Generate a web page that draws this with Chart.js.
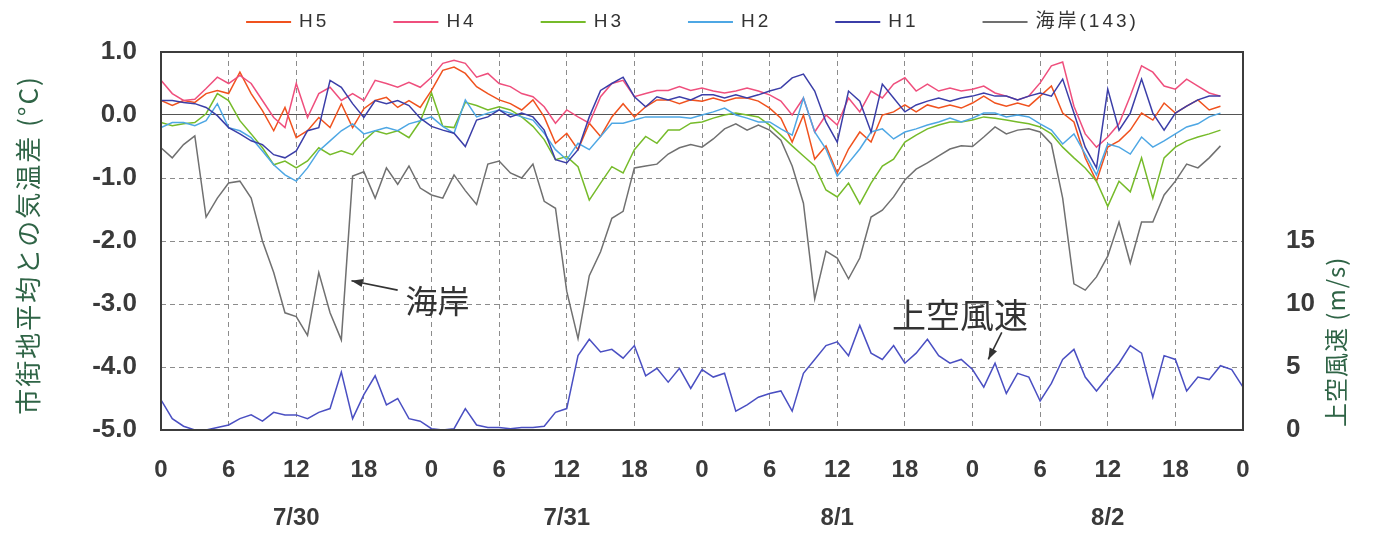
<!DOCTYPE html>
<html>
<head>
<meta charset="utf-8">
<script src="https://cdn.jsdelivr.net/npm/chart.js@4.4.1/dist/chart.umd.min.js"></script>
<style>
html, body { margin: 0; padding: 0; background: #fff; }
#wrap { width: 1377px; height: 545px; position: relative; }
</style>
</head>
<body>
<div id="wrap"><canvas id="tempChart"></canvas></div>
<script>
// hourly values from 7/30 0:00 (index = hours elapsed)
var dates = ['7/30', '7/31', '8/1', '8/2'];
var hourTicks = [0, 6, 12, 18, 24, 30, 36, 42, 48, 54, 60, 66, 72, 78, 84, 90, 96];

// 市街地平均との気温差 (°C)
var h5 = [0.23, 0.15, 0.23, 0.2, 0.34, 0.39, 0.34, 0.68, 0.34, 0.07, -0.25, 0.12, -0.36, -0.25, -0.04, -0.2, 0.18, -0.2, 0.1, 0.23, 0.28, 0.12, 0.23, 0.12,
    0.39, 0.71, 0.76, 0.66, 0.45, 0.34, 0.24, 0.18, 0.08, 0.24, -0.03, -0.45, -0.29, -0.55, -0.13, -0.34, -0.03, 0.18, -0.03, 0.13, 0.24, 0.24, 0.18, 0.24,
    0.22, 0.27, 0.22, 0.27, 0.27, 0.22, 0.11, -0.05, -0.43, 0.0, -0.7, -0.49, -0.92, -0.54, -0.27, -0.43, 0.0, 0.05, 0.16, 0.05, 0.16, 0.11, 0.16, 0.11,
    0.19, 0.3, 0.19, 0.14, 0.19, 0.14, 0.3, 0.46, 0.03, -0.11, -0.68, -1.05, -0.51, -0.41, -0.24, 0.03, -0.08, 0.19, 0.03, 0.14, 0.24, 0.08, 0.14];
var h4 = [0.55, 0.34, 0.23, 0.25, 0.42, 0.6, 0.5, 0.63, 0.5, 0.23, -0.04, -0.2, 0.5, -0.04, 0.34, 0.44, 0.23, 0.34, 0.23, 0.55, 0.5, 0.44, 0.52, 0.44,
    0.6, 0.82, 0.87, 0.82, 0.6, 0.66, 0.5, 0.45, 0.34, 0.29, 0.13, -0.13, 0.08, -0.03, -0.13, 0.29, 0.5, 0.55, 0.29, 0.34, 0.39, 0.39, 0.45, 0.39,
    0.43, 0.38, 0.35, 0.38, 0.43, 0.38, 0.32, 0.22, 0.0, 0.27, -0.27, 0.0, -0.16, 0.27, 0.05, 0.38, 0.27, 0.49, 0.59, 0.38, 0.49, 0.38, 0.43, 0.38,
    0.41, 0.46, 0.35, 0.3, 0.24, 0.3, 0.51, 0.78, 0.84, 0.14, -0.3, -0.51, -0.35, -0.14, 0.3, 0.78, 0.68, 0.46, 0.41, 0.57, 0.46, 0.35, 0.3];
var h3 = [-0.12, -0.17, -0.14, -0.12, 0.02, 0.34, 0.23, -0.09, -0.3, -0.52, -0.79, -0.73, -0.84, -0.73, -0.52, -0.63, -0.57, -0.63, -0.41, -0.25, -0.3, -0.25, -0.36, -0.1,
    0.35, -0.18, -0.2, 0.2, 0.15, 0.08, 0.13, 0.08, -0.03, -0.18, -0.39, -0.71, -0.66, -0.82, -1.35, -1.08, -0.82, -0.92, -0.55, -0.34, -0.45, -0.24, -0.24, -0.13,
    -0.11, -0.05, 0.0, 0.03, 0.0, -0.03, -0.16, -0.32, -0.49, -0.65, -0.81, -1.19, -1.3, -1.08, -1.41, -1.08, -0.81, -0.7, -0.43, -0.32, -0.22, -0.16, -0.11, -0.11,
    -0.08, -0.03, -0.05, -0.08, -0.11, -0.14, -0.19, -0.3, -0.51, -0.68, -0.84, -1.05, -1.45, -1.05, -1.22, -0.68, -1.32, -0.68, -0.51, -0.41, -0.35, -0.3, -0.24];
var h2 = [-0.2, -0.12, -0.12, -0.17, -0.09, 0.18, -0.2, -0.25, -0.36, -0.57, -0.79, -0.95, -1.05, -0.84, -0.57, -0.41, -0.25, -0.14, -0.3, -0.25, -0.2, -0.25, -0.14, -0.09,
    -0.03, -0.18, -0.29, 0.24, -0.03, 0.03, 0.08, 0.03, -0.03, -0.08, -0.29, -0.55, -0.71, -0.45, -0.55, -0.34, -0.13, -0.13, -0.08, -0.03, -0.03, -0.03, -0.03, -0.05,
    0.0, 0.05, 0.11, 0.0, -0.05, -0.11, -0.11, -0.22, -0.32, 0.27, -0.27, -0.54, -0.97, -0.76, -0.54, -0.27, -0.22, -0.38, -0.27, -0.22, -0.16, -0.11, -0.05, -0.11,
    -0.05, 0.03, 0.03, -0.03, 0.0, -0.03, -0.14, -0.24, -0.46, -0.3, -0.62, -0.95, -0.46, -0.51, -0.62, -0.35, -0.51, -0.41, -0.3, -0.19, -0.14, -0.03, 0.03];
var h1 = [0.23, 0.23, 0.2, 0.18, 0.12, -0.01, -0.2, -0.3, -0.41, -0.47, -0.63, -0.68, -0.57, -0.25, -0.2, 0.55, 0.44, 0.18, -0.04, 0.23, 0.18, 0.23, 0.15, -0.05,
    -0.18, -0.24, -0.29, -0.5, -0.08, -0.03, 0.08, -0.03, 0.03, -0.03, -0.24, -0.71, -0.76, -0.55, -0.03, 0.39, 0.5, 0.6, 0.29, 0.13, 0.29, 0.24, 0.29, 0.24,
    0.32, 0.32, 0.27, 0.32, 0.27, 0.32, 0.38, 0.43, 0.59, 0.65, 0.38, -0.11, -0.43, 0.38, 0.22, -0.27, 0.49, 0.27, 0.05, 0.16, 0.22, 0.27, 0.22, 0.27,
    0.3, 0.35, 0.3, 0.3, 0.24, 0.3, 0.35, 0.3, 0.57, 0.03, -0.51, -0.84, 0.41, -0.24, 0.03, 0.57, 0.03, -0.24, 0.03, 0.14, 0.24, 0.3, 0.3];
var coast = [-0.52, -0.68, -0.47, -0.33, -1.62, -1.32, -1.08, -1.05, -1.32, -2.0, -2.5, -3.14, -3.2, -3.5, -2.5, -3.14, -3.57, -0.97, -0.9, -1.32, -0.84, -1.1, -0.81, -1.16,
    -1.27, -1.32, -0.95, -1.2, -1.42, -0.78, -0.73, -0.92, -1.0, -0.78, -1.37, -1.48, -2.8, -3.55, -2.55, -2.17, -1.64, -1.53, -0.84, -0.81, -0.78, -0.62, -0.52, -0.47,
    -0.51, -0.38, -0.22, -0.14, -0.24, -0.16, -0.24, -0.4, -0.81, -1.4, -2.92, -2.16, -2.27, -2.6, -2.27, -1.62, -1.51, -1.3, -1.03, -0.86, -0.76, -0.65, -0.54, -0.49,
    -0.5, -0.35, -0.19, -0.3, -0.24, -0.22, -0.27, -0.46, -1.32, -2.68, -2.78, -2.57, -2.24, -1.7, -2.35, -1.7, -1.7, -1.27, -1.05, -0.78, -0.84, -0.68, -0.49];

// 上空風速 (m/s)
var wind = [2.4, 0.9, 0.3, 0, 0, 0.2, 0.4, 0.9, 1.2, 0.7, 1.4, 1.2, 1.2, 0.9, 1.4, 1.7, 4.6, 0.9, 2.8, 4.3, 2.0, 2.5, 0.9, 0.7,
    0.1, 0, 0.1, 1.7, 0.4, 0.2, 0.2, 0.1, 0.2, 0.2, 0.3, 1.4, 1.7, 5.9, 7.2, 6.2, 6.4, 5.7, 6.7, 4.3, 4.9, 3.8, 4.9, 3.3,
    4.8, 4.2, 4.5, 1.5, 2.0, 2.6, 2.9, 3.1, 1.5, 4.5, 5.6, 6.7, 7.0, 5.9, 8.3, 6.1, 5.6, 6.7, 5.3, 6.1, 7.2, 5.9, 5.3, 5.6,
    4.8, 3.4, 5.3, 2.9, 4.5, 4.2, 2.3, 3.7, 5.6, 6.4, 4.2, 3.1, 4.2, 5.3, 6.7, 6.1, 2.6, 5.9, 5.6, 3.1, 4.2, 4.0, 5.1, 4.8, 3.4];

var leftTitle = '市街地平均との気温差 (°C)';
var rightTitle = '上空風速 (m/s)';

// text notes in the plot (position in hours / °C)
var notes = [
    { text: '海岸', x: 21.7, y: -2.95, size: 32, align: 'left', from: [21.0, -2.78], to: [16.9, -2.63] },
    { text: '上空風速', x: 70.9, y: -3.18, size: 34, align: 'center', from: [74.6, -3.45], to: [73.4, -3.88] }
];

var tickFont = "'Liberation Sans', Arial, sans-serif";
var cjkFont = "'Noto Sans CJK JP', sans-serif";

function pts(arr) {
    return arr.map(function (v, i) { return { x: i, y: v }; });
}

function line(label, arr, color, order, axis) {
    return {
        label: label,
        data: pts(arr),
        borderColor: color,
        backgroundColor: color,
        borderWidth: 1.5,
        pointRadius: 0,
        tension: 0,
        order: order,
        yAxisID: axis || 'y',
        inLegend: !axis
    };
}

function drawArrow(ctx, x1, y1, x2, y2) {
    ctx.beginPath();
    ctx.moveTo(x1, y1);
    ctx.lineTo(x2, y2);
    ctx.stroke();
    var ang = Math.atan2(y2 - y1, x2 - x1);
    ctx.beginPath();
    ctx.moveTo(x2, y2);
    ctx.lineTo(x2 - 12 * Math.cos(ang - 0.35), y2 - 12 * Math.sin(ang - 0.35));
    ctx.lineTo(x2 - 12 * Math.cos(ang + 0.35), y2 - 12 * Math.sin(ang + 0.35));
    ctx.closePath();
    ctx.fill();
}

var decor = {
    id: 'decor',
    afterDatasetsDraw: function (chart) {
        var ctx = chart.ctx, a = chart.chartArea;
        ctx.save();
        ctx.strokeStyle = '#3c3c3c';
        ctx.lineWidth = 2;
        ctx.strokeRect(a.left, a.top, a.right - a.left, a.bottom - a.top);
        ctx.restore();
    },
    afterDraw: function (chart) {
        var ctx = chart.ctx, a = chart.chartArea;
        var xs = chart.scales.x, ys = chart.scales.y, y2 = chart.scales.y2;
        ctx.save();

        // legend
        ctx.font = '19px ' + tickFont + ', ' + cjkFont;
        ctx.letterSpacing = '3px';
        ctx.textBaseline = 'middle';
        ctx.textAlign = 'left';
        var items = chart.data.datasets.filter(function (d) { return d.inLegend; });
        var widths = items.map(function (d) { return 45 + 8 + ctx.measureText(d.label).width; });
        var gap = 64;
        var total = widths.reduce(function (s, w) { return s + w; }, 0) + gap * (items.length - 1);
        var lx = chart.width / 2 - total / 2 + 4;
        items.forEach(function (d, i) {
            ctx.strokeStyle = d.borderColor;
            ctx.lineWidth = 2;
            ctx.beginPath();
            ctx.moveTo(lx, 22);
            ctx.lineTo(lx + 45, 22);
            ctx.stroke();
            ctx.fillStyle = '#333';
            ctx.fillText(d.label, lx + 53, 22);
            lx += widths[i] + gap;
        });
        ctx.letterSpacing = '0px';

        // axis titles, read bottom to top
        ctx.fillStyle = '#2f6446';
        ctx.textAlign = 'center';
        ctx.font = '26px ' + cjkFont;
        ctx.letterSpacing = '2px';
        ctx.save();
        ctx.translate(28, (a.top + a.bottom) / 2 + 4);
        ctx.rotate(-Math.PI / 2);
        ctx.fillText(leftTitle, 0, 0);
        ctx.restore();
        ctx.font = '24px ' + cjkFont;
        ctx.letterSpacing = '1px';
        ctx.save();
        ctx.translate(1336, y2.getPixelForValue(7.0));
        ctx.rotate(-Math.PI / 2);
        ctx.fillText(rightTitle, 0, 0);
        ctx.restore();
        ctx.letterSpacing = '0px';

        // notes with arrows
        ctx.fillStyle = '#333';
        ctx.strokeStyle = '#333';
        ctx.lineWidth = 1.6;
        notes.forEach(function (n) {
            ctx.font = n.size + 'px ' + cjkFont;
            ctx.textAlign = n.align;
            ctx.fillText(n.text, xs.getPixelForValue(n.x), ys.getPixelForValue(n.y));
            drawArrow(ctx, xs.getPixelForValue(n.from[0]), ys.getPixelForValue(n.from[1]),
                xs.getPixelForValue(n.to[0]), ys.getPixelForValue(n.to[1]));
        });
        ctx.restore();
    }
};

var chart = new Chart(document.getElementById('tempChart'), {
    type: 'line',
    data: {
        datasets: [
            line('H5', h5, '#f0521e', 5),
            line('H4', h4, '#ef4f7d', 4),
            line('H3', h3, '#76bb2a', 3),
            line('H2', h2, '#4ea7e4', 2),
            line('H1', h1, '#3b3ea8', 1),
            line('海岸(143)', coast, '#707070', 0),
            line('上空風速', wind, '#4a4fc2', 0, 'y2')
        ]
    },
    options: {
        responsive: true,
        maintainAspectRatio: false,
        animation: false,
        layout: { padding: { top: 52 } },
        plugins: {
            legend: { display: false },
            tooltip: { enabled: false }
        },
        scales: {
            x: {
                type: 'linear',
                min: 0,
                max: 96,
                afterFit: function (s) { s.height = 115; },
                afterBuildTicks: function (s) { s.ticks = hourTicks.map(function (v) { return { value: v }; }); },
                ticks: {
                    autoSkip: false,
                    maxRotation: 0,
                    padding: 16,
                    color: '#3a3a3a',
                    font: { family: tickFont, size: 24, weight: 'bold', lineHeight: 2.0 },
                    callback: function (v) {
                        var hr = String(v % 24);
                        if (v % 24 === 12) return [hr, dates[Math.floor(v / 24)]];
                        return hr;
                    }
                },
                grid: { color: '#8c8c8c', lineWidth: 1, drawTicks: false },
                border: { display: false, dash: [5, 4] }
            },
            y: {
                min: -5,
                max: 1,
                afterFit: function (s) { s.width = 161; },
                ticks: {
                    stepSize: 1,
                    padding: 24,
                    color: '#3a3a3a',
                    font: { family: tickFont, size: 26, weight: 'bold' },
                    callback: function (v) { return v.toFixed(1); }
                },
                grid: {
                    drawTicks: false,
                    lineWidth: 1,
                    color: function (c) { return c.tick && c.tick.value === 0 ? '#555' : '#8c8c8c'; }
                },
                border: {
                    display: false,
                    dash: function (c) { return c.tick && c.tick.value === 0 ? [] : [5, 4]; }
                }
            },
            y2: {
                position: 'right',
                min: 0,
                max: 30,
                afterFit: function (s) { s.width = 134; },
                ticks: {
                    stepSize: 5,
                    padding: 35,
                    color: '#3a3a3a',
                    font: { family: tickFont, size: 26, weight: 'bold' },
                    callback: function (v) { return v <= 15 ? String(v) : ''; }
                },
                grid: { display: false },
                border: { display: false }
            }
        }
    },
    plugins: [decor]
});
</script>
</body>
</html>
